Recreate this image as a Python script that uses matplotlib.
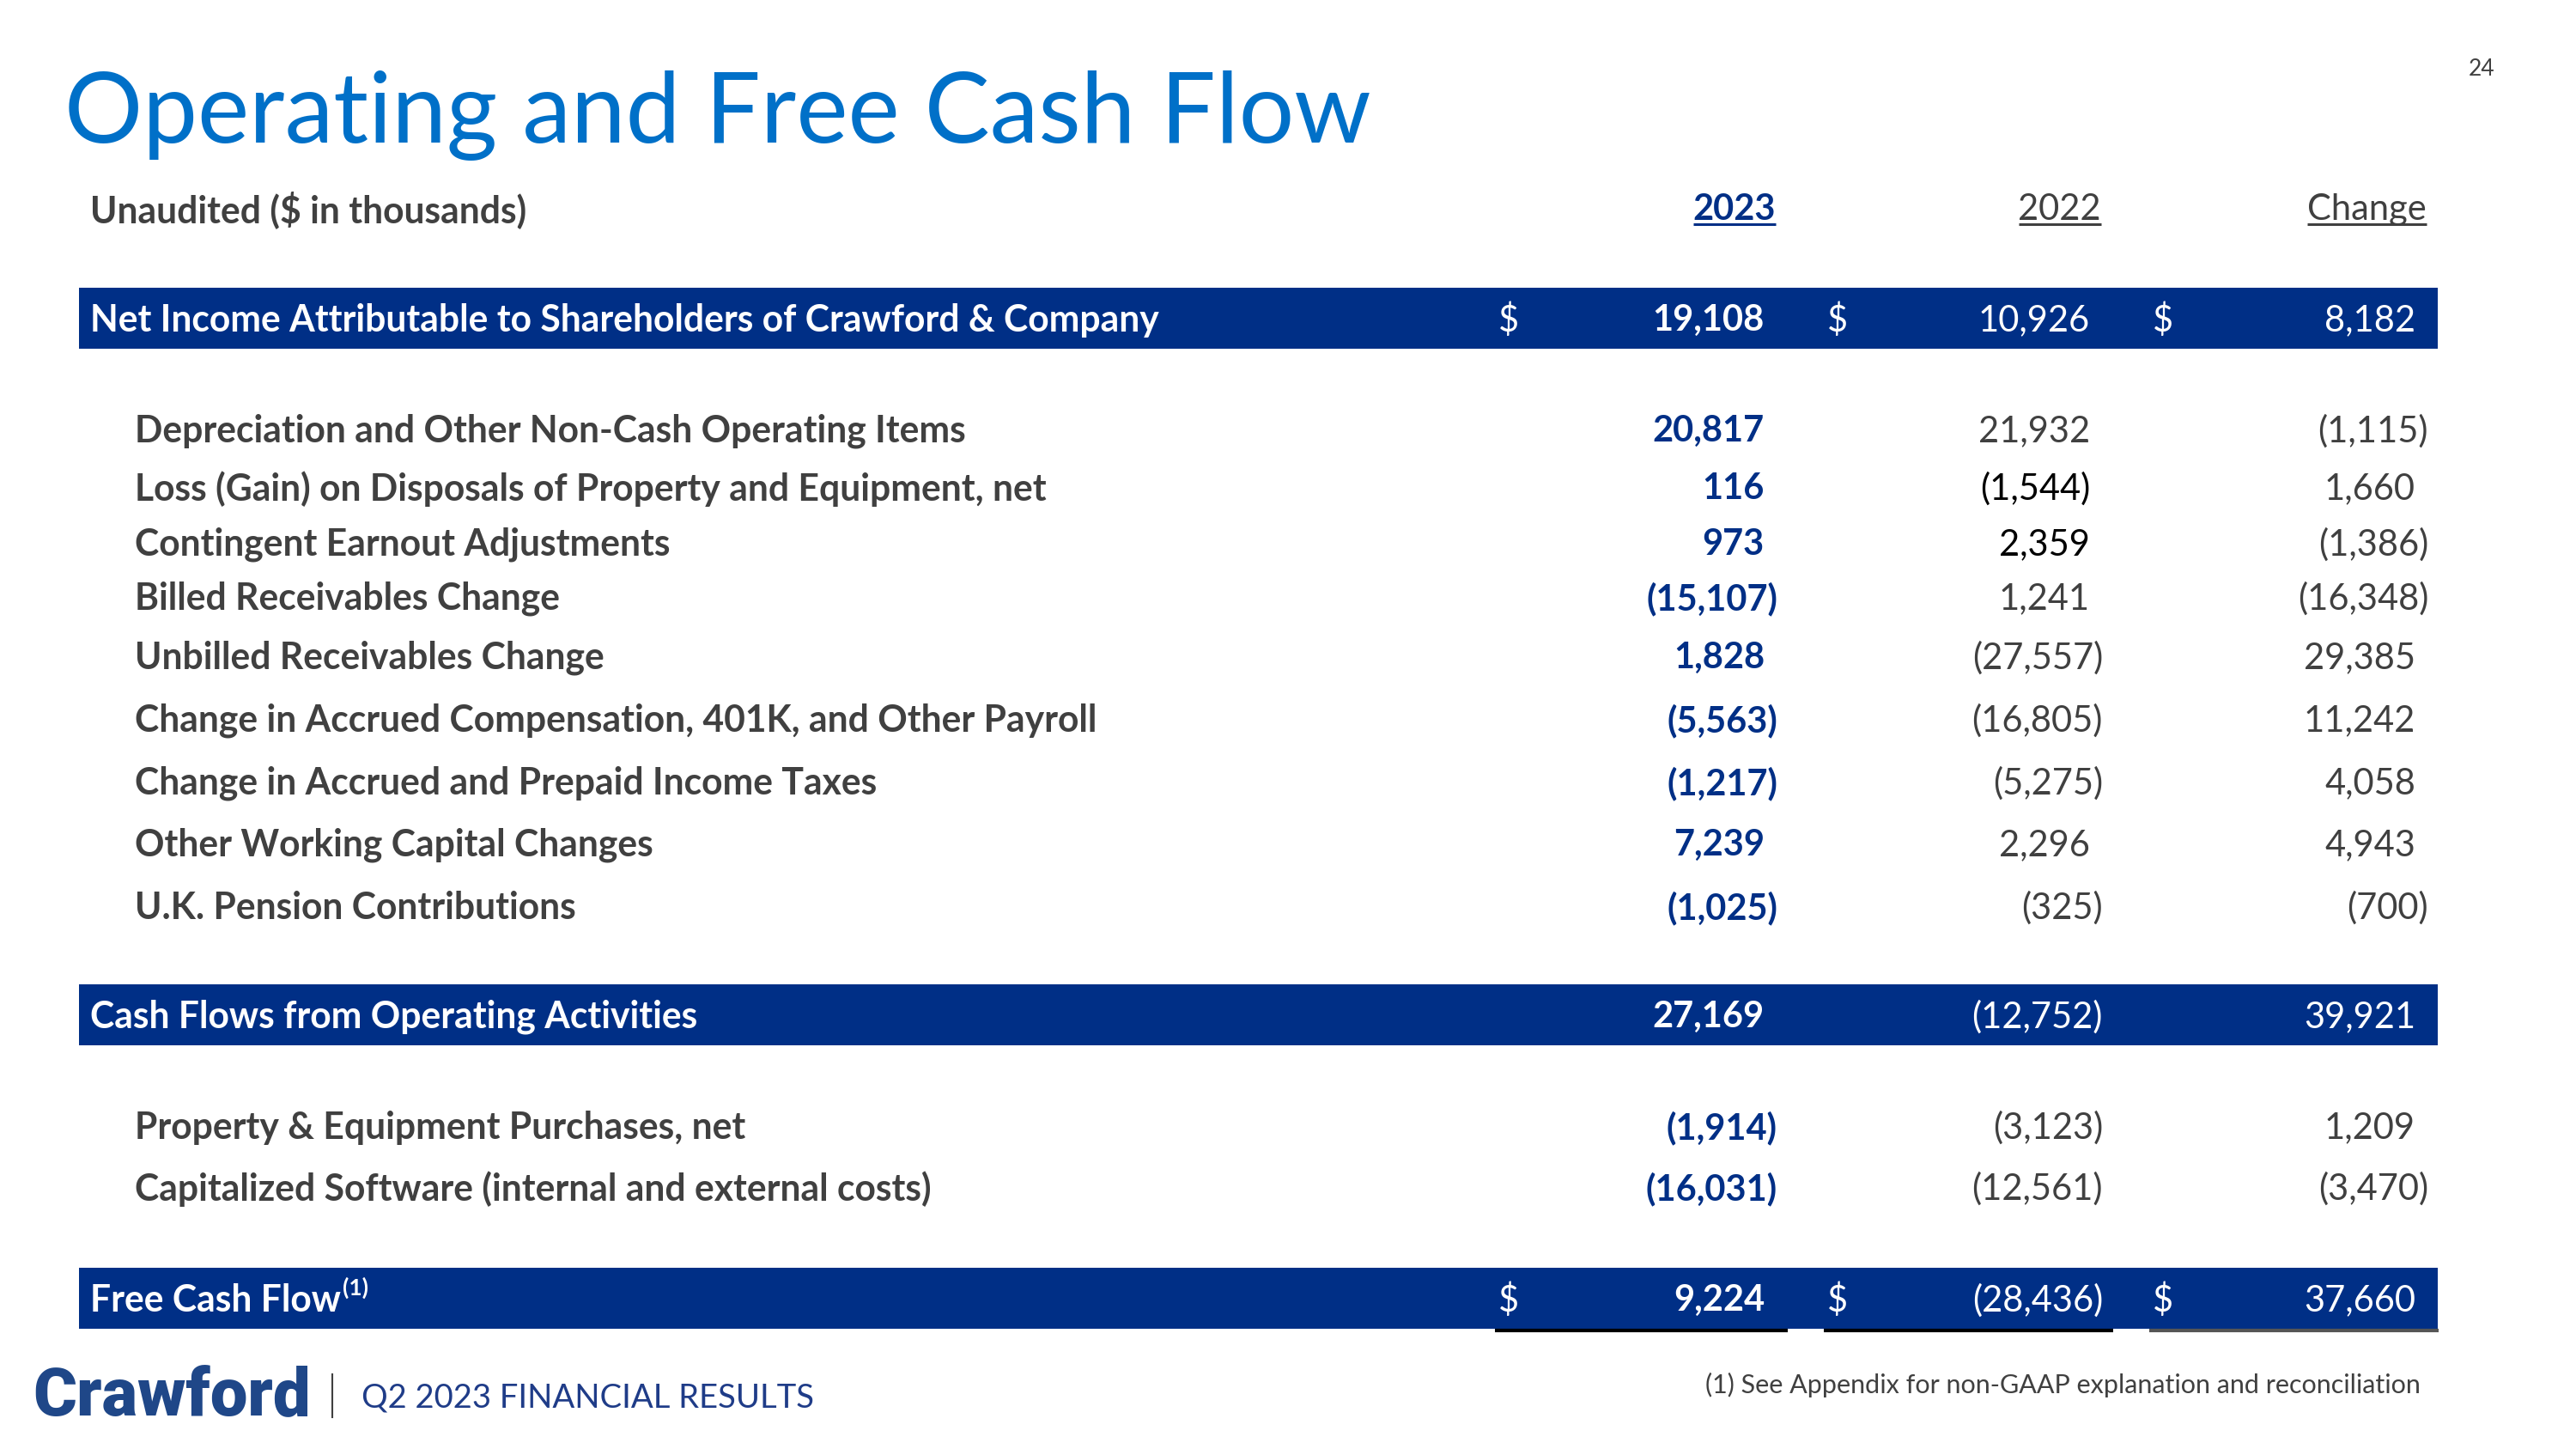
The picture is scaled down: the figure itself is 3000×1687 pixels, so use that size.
import matplotlib
matplotlib.use("Agg")
import matplotlib.pyplot as plt

# ---------------- data ----------------
title = "Operating and Free Cash Flow"
subtitle = "Unaudited ($ in thousands)"
col_headers = ["2023", "2022", "Change"]
labels = [
    "Net Income Attributable to Shareholders of Crawford & Company",
    "Depreciation and Other Non-Cash Operating Items",
    "Loss (Gain) on Disposals of Property and Equipment, net",
    "Contingent Earnout Adjustments",
    "Billed Receivables Change",
    "Unbilled Receivables Change",
    "Change in Accrued Compensation, 401K, and Other Payroll",
    "Change in Accrued and Prepaid Income Taxes",
    "Other Working Capital Changes",
    "U.K. Pension Contributions",
    "Cash Flows from Operating Activities",
    "Property & Equipment Purchases, net",
    "Capitalized Software (internal and external costs)",
    "Free Cash Flow",
]
v2023 = [19108, 20817, 116, 973, -15107, 1828, -5563, -1217, 7239, -1025, 27169, -1914, -16031, 9224]
v2022 = [10926, 21932, -1544, 2359, 1241, -27557, -16805, -5275, 2296, -325, -12752, -3123, -12561, -28436]
change = [8182, -1115, 1660, -1386, -16348, 29385, 11242, 4058, 4943, -700, 39921, 1209, -3470, 37660]
highlight_rows = [0, 10, 13]
dollar_rows = [0, 13]
footnote = "(1) See Appendix for non-GAAP explanation and reconciliation"
footer = "Q2 2023 FINANCIAL RESULTS"
page = "24"

# ---------------- layout / style ----------------
W, H = 3000, 1687
BLUE = "#002F86"
TITLE_BLUE = "#0070C8"
GRAY = "#404040"
FONT = "Lato"

row_y = [370, 499, 566, 631, 694, 763, 836, 909, 981, 1054, 1181, 1310, 1381, 1511]
col_right = [2055, 2434, 2813]
dollar_x = [1745, 2128, 2507]
hang = 15
bar_x0, bar_x1 = 92, 2839
bar_h = 71
dy = 3  # text baseline nudge

fig = plt.figure(figsize=(W / 100, H / 100), dpi=100)
ax = fig.add_axes([0, 0, 1, 1])
ax.set_xlim(0, W)
ax.set_ylim(H, 0)
ax.axis("off")

def fmt(v):
    s = f"{abs(v):,}"
    return f"({s})" if v < 0 else s

FSL = 30.7
FSN = 30

# title
ax.text(75, 166, title, fontsize=82, color=TITLE_BLUE, family=FONT,
        ha="left", va="baseline")
ax.text(2890, 80, page, fontsize=19, color=GRAY, family=FONT, ha="center", va="center")

# subtitle and column headers
ax.text(105, 244, subtitle, fontsize=FSL, color=GRAY, family=FONT, weight="bold",
        ha="left", va="center")
hdr_texts = []
for i, h in enumerate(col_headers):
    t = ax.text(col_right[i] + 13, 244, h, fontsize=FSN,
                color=BLUE if i == 0 else GRAY, family=FONT,
                weight="bold" if i == 0 else "normal", ha="right", va="center")
    hdr_texts.append((t, BLUE if i == 0 else GRAY))

# highlight bars
for r in highlight_rows:
    ax.add_patch(plt.Rectangle((bar_x0, row_y[r] - bar_h / 2), bar_x1 - bar_x0, bar_h,
                               facecolor=BLUE, edgecolor="none", zorder=1))

no_hang = {(2, 1)}
black_cells = {(2, 1), (3, 1)}
fcf_label = None
for r, lab in enumerate(labels):
    hl = r in highlight_rows
    y = row_y[r] + dy
    x = 105 if hl else 157
    t = ax.text(x, y, lab, fontsize=FSL, color="white" if hl else GRAY, family=FONT,
                weight="bold", ha="left", va="center", zorder=3)
    if r == 13:
        fcf_label = t
    vals = [v2023[r], v2022[r], change[r]]
    for c, v in enumerate(vals):
        xr = col_right[c]
        if v < 0 and (r, c) not in no_hang:
            xr += hang
        if hl:
            col = "white"
        elif c == 0:
            col = BLUE
        elif (r, c) in black_cells:
            col = "black"
        else:
            col = GRAY
        ax.text(xr, y, fmt(v), fontsize=FSN, color=col, family=FONT,
                weight="bold" if c == 0 else "normal", ha="right", va="center", zorder=3)
    if r in dollar_rows:
        for c in range(3):
            ax.text(dollar_x[c], y, "$", fontsize=FSN, color="white", family=FONT,
                    ha="left", va="center", zorder=3)

# underlines below Free Cash Flow values
y_ul = row_y[13] + bar_h / 2 + 2
for c, colr in enumerate(["black", "black", "#555555"]):
    ax.plot([dollar_x[c] - 4, col_right[c] + 27], [y_ul, y_ul], color=colr, lw=3,
            solid_capstyle="butt", zorder=2)

# footnote + footer
ax.text(2819, 1612, footnote, fontsize=22, color=GRAY, family=FONT, ha="right", va="center")
ax.text(38, 1647, "Crawford", fontsize=56, color="#1F4788", family="Roboto", weight="black",
        ha="left", va="baseline")
ax.plot([387, 387], [1600, 1650], color=GRAY, lw=1.5)
ax.text(421, 1628, footer, fontsize=27.5, color="#1F3C88", family=FONT, ha="left", va="center")

# measured extras: header underlines, superscript
fig.canvas.draw()
rend = fig.canvas.get_renderer()
inv = ax.transData.inverted()
for t, colr in hdr_texts:
    bb = t.get_window_extent(rend)
    (x0, y0), (x1, y1) = inv.transform([[bb.x0, bb.y0], [bb.x1, bb.y1]])
    ax.plot([x0, x1], [261, 261], color=colr, lw=2.2, solid_capstyle="butt")
bb = fcf_label.get_window_extent(rend)
(x0, y0), (x1, y1) = inv.transform([[bb.x0, bb.y0], [bb.x1, bb.y1]])
ax.text(x1 + 2, row_y[13] - 12, "(1)", fontsize=19, color="white", family=FONT,
        weight="bold", ha="left", va="center", zorder=3)

fig.savefig("out.png", dpi=100, facecolor="white")
